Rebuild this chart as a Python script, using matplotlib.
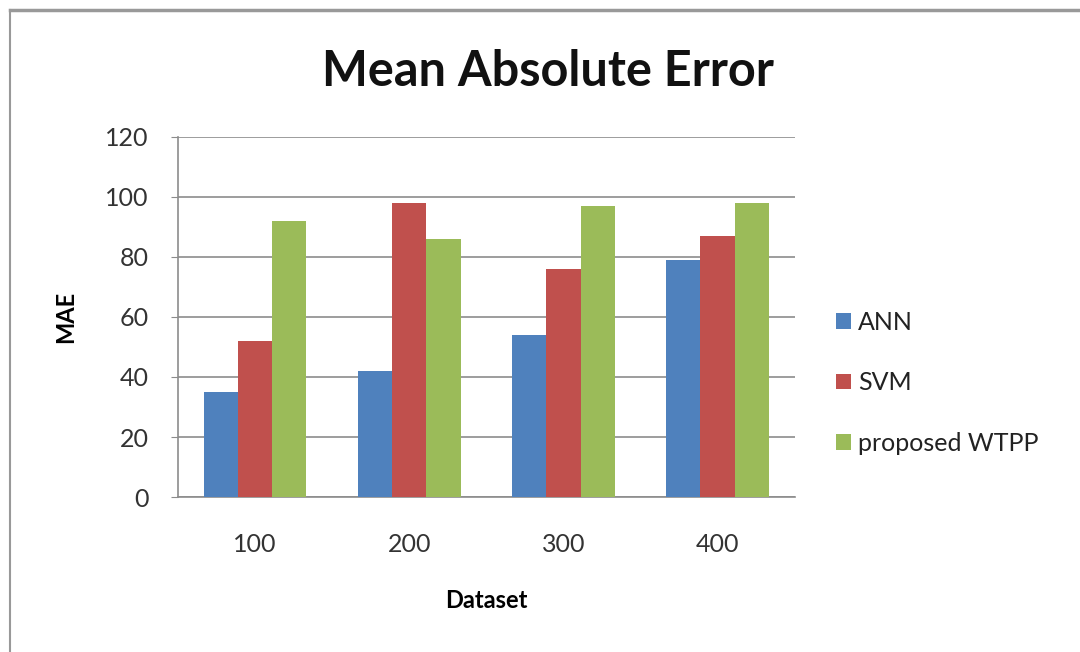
import numpy as np
import matplotlib.pyplot as plt
from matplotlib.lines import Line2D

plt.rcParams['font.family'] = ['Lato', 'DejaVu Sans']

datasets = ['100', '200', '300', '400']
ann = [35, 42, 54, 79]
svm = [52, 98, 76, 87]
wtpp = [92, 86, 97, 98]
series_names = ['ANN', 'SVM', 'proposed WTPP']
colors = ['#4F81BD', '#C0504D', '#9BBB59']

fig = plt.figure(figsize=(10.8, 6.52), dpi=100)
ax = fig.add_axes([0.1648, 0.2377, 0.571, 0.5523])

x = np.arange(len(datasets))
w = 0.222
for i, vals in enumerate([ann, svm, wtpp]):
    ax.bar(x + (i - 1) * w, vals, width=w, color=colors[i], label=series_names[i], zorder=3)

ax.set_xlim(-0.5, 3.5)
ax.set_ylim(0, 120)
ax.set_yticks(range(0, 121, 20))
ax.set_xticks(x)
ax.set_xticklabels(datasets)
ax.yaxis.grid(True, color='#8c8c8c', linewidth=1.2, zorder=0)
for s in ['top', 'right']:
    ax.spines[s].set_visible(False)
ax.spines['left'].set_color('#8c8c8c')
ax.spines['bottom'].set_color('#8c8c8c')
ax.spines['left'].set_linewidth(1.2)
ax.spines['bottom'].set_linewidth(1.2)
ax.tick_params(axis='y', length=5, color='#8c8c8c', labelsize=18, pad=16, labelcolor='#333333')
ax.tick_params(axis='x', length=0, labelsize=18, pad=26, labelcolor='#333333')

ax.set_xlabel('Dataset', fontsize=17, fontweight='bold', labelpad=24)
ax.set_ylabel('MAE', fontsize=17, fontweight='bold', labelpad=20)

fig.text(0.507, 0.89, 'Mean Absolute Error', fontsize=35, fontweight='bold',
         ha='center', va='center', color='#111111')

ax.legend(loc='center left', bbox_to_anchor=(1.03, 0.317), frameon=False,
          fontsize=18, handlelength=0.6, handleheight=0.6, handletextpad=0.3,
          labelspacing=1.5, labelcolor='#222222')

# outer border of the chart area
fig.add_artist(Line2D([0.0093, 0.0093], [0.0, 0.985], color='#999999', linewidth=1.5))
fig.add_artist(Line2D([0.0093, 1.0], [0.985, 0.985], color='#999999', linewidth=2.5))

fig.savefig('out.png', dpi=100)
